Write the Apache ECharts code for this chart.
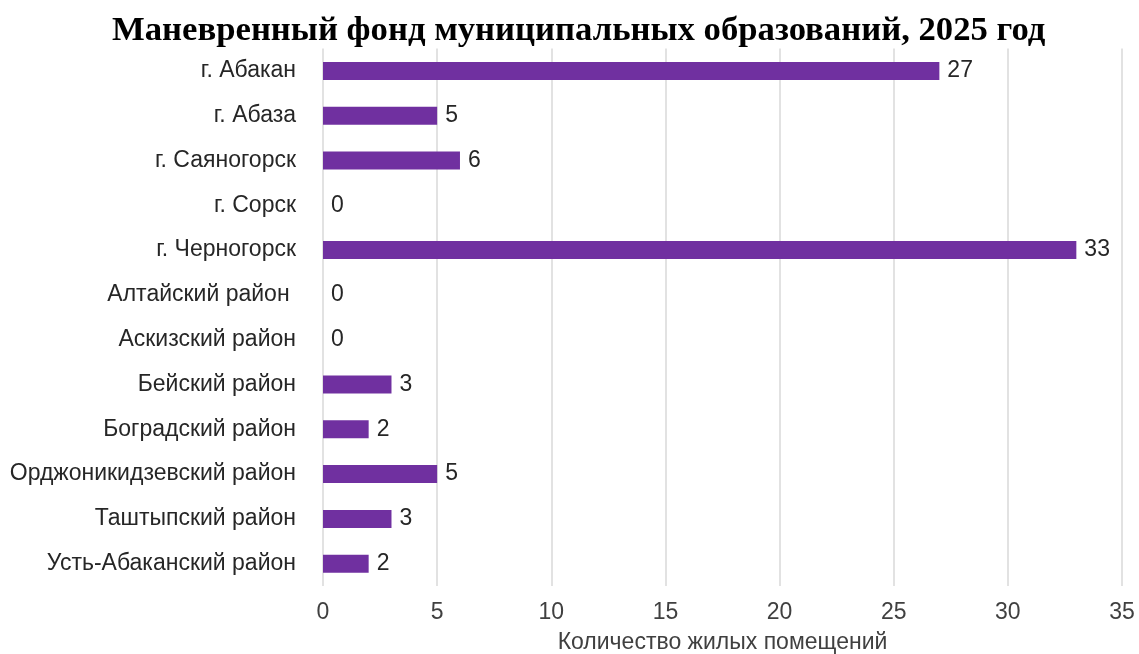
<!DOCTYPE html>
<html>
<head>
<meta charset="utf-8">
<script src="https://cdn.jsdelivr.net/npm/echarts@6/dist/echarts.min.js"></script>
<style>
  html, body { margin: 0; padding: 0; background: #fff; }
  #chart { width: 1139px; height: 654px; }
</style>
</head>
<body>
<div id="chart"></div>
<script>
// Municipalities, top to bottom
const categories = [
  'г. Абакан',
  'г. Абаза',
  'г. Саяногорск',
  'г. Сорск',
  'г. Черногорск',
  'Алтайский район ',
  'Аскизский район',
  'Бейский район',
  'Боградский район',
  'Орджоникидзевский район',
  'Таштыпский район',
  'Усть-Абаканский район'
];
// Number of residential units in the reserve housing fund
const values = [27, 5, 6, 0, 33, 0, 0, 3, 2, 5, 3, 2];
const xTicks = [0, 5, 10, 15, 20, 25, 30, 35];

const chart = echarts.init(document.getElementById('chart'), null, { renderer: 'canvas' });
chart.setOption({
  backgroundColor: '#ffffff',
  animation: false,
  title: {
    text: 'Маневренный фонд муниципальных образований, 2025 год',
    left: 107,
    top: 9,
    textStyle: {
      fontFamily: 'Liberation Serif',
      fontWeight: 'bold',
      fontSize: 34.7,
      color: '#000'
    }
  },
  grid: {
    left: 323, top: 48.5, width: 799, height: 537.6,
    containLabel: false,
    outerBoundsMode: 'none'
  },
  xAxis: {
    type: 'value',
    min: xTicks[0],
    max: xTicks[xTicks.length - 1],
    interval: 5,
    name: 'Количество жилых помещений',
    nameLocation: 'middle',
    nameGap: 45,
    nameTextStyle: { fontFamily: 'Liberation Sans', fontSize: 23, color: '#404040' },
    axisLine: { show: false },
    axisTick: { show: false },
    axisLabel: { fontFamily: 'Liberation Sans', fontSize: 23, color: '#404040', margin: 15 },
    splitLine: { show: true, lineStyle: { color: '#d9d9d9', width: 1.5 } }
  },
  yAxis: {
    type: 'category',
    data: categories,
    inverse: true,
    axisLine: { show: false },
    axisTick: { show: false },
    axisLabel: { fontFamily: 'Liberation Sans', fontSize: 23, color: '#262626', margin: 27 }
  },
  series: [{
    type: 'bar',
    data: values,
    barWidth: 18,
    itemStyle: { color: '#7030a0' },
    label: {
      show: true,
      position: 'right',
      distance: 8,
      fontFamily: 'Liberation Sans',
      fontSize: 23,
      color: '#262626'
    }
  }]
});
</script>
</body>
</html>
